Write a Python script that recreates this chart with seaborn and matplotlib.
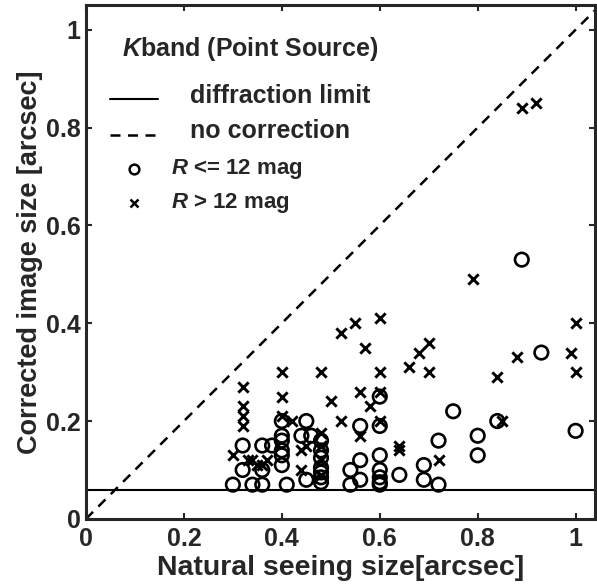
import matplotlib
matplotlib.use("Agg")
import matplotlib.pyplot as plt
import seaborn as sns
import numpy as np
import pandas as pd

# ---- data ----
bright_x = [0.30, 0.32, 0.32, 0.34, 0.36, 0.36, 0.36, 0.38, 0.40, 0.40, 0.40, 0.40, 0.40, 0.40,
            0.41, 0.44, 0.46, 0.45, 0.45, 0.48, 0.48, 0.48, 0.48, 0.48, 0.48, 0.48, 0.54, 0.54,
            0.56, 0.56, 0.56, 0.60, 0.60, 0.60, 0.60, 0.60, 0.60, 0.60, 0.64, 0.69, 0.69, 0.72,
            0.72, 0.75, 0.80, 0.80, 0.84, 0.89, 0.93, 1.00]
bright_y = [0.07, 0.15, 0.10, 0.07, 0.15, 0.10, 0.07, 0.15, 0.20, 0.17, 0.16, 0.14, 0.13, 0.11,
            0.07, 0.17, 0.17, 0.20, 0.08, 0.16, 0.14, 0.125, 0.105, 0.095, 0.085, 0.075, 0.10, 0.07,
            0.19, 0.12, 0.08, 0.25, 0.19, 0.13, 0.10, 0.085, 0.075, 0.07, 0.09, 0.11, 0.08, 0.16,
            0.07, 0.22, 0.17, 0.13, 0.20, 0.53, 0.34, 0.18]

faint_x = [0.30, 0.32, 0.32, 0.32, 0.32, 0.33, 0.34, 0.35, 0.37, 0.36, 0.40, 0.40, 0.40, 0.42,
           0.44, 0.44, 0.45, 0.48, 0.48, 0.48, 0.48, 0.48, 0.50, 0.52, 0.52, 0.55, 0.56, 0.56,
           0.57, 0.58, 0.60, 0.60, 0.60, 0.60, 0.64, 0.64, 0.66, 0.68, 0.70, 0.70, 0.72, 0.79,
           0.84, 0.85, 0.88, 0.89, 0.92, 0.99, 1.00, 1.00]
faint_y = [0.13, 0.27, 0.23, 0.21, 0.19, 0.12, 0.12, 0.11, 0.12, 0.11, 0.30, 0.25, 0.21, 0.20,
           0.14, 0.10, 0.15, 0.30, 0.175, 0.15, 0.12, 0.09, 0.24, 0.38, 0.20, 0.40, 0.26, 0.17,
           0.35, 0.23, 0.41, 0.30, 0.26, 0.20, 0.15, 0.14, 0.31, 0.34, 0.36, 0.30, 0.12, 0.49,
           0.29, 0.20, 0.33, 0.84, 0.85, 0.34, 0.40, 0.30]

diffraction_limit = 0.06
ticks = [0, 0.2, 0.4, 0.6, 0.8, 1.0]
tick_labels = ["0", "0.2", "0.4", "0.6", "0.8", "1"]

sns.set_style("ticks")
plt.rcParams["font.family"] = ["Liberation Sans", "DejaVu Sans"]
plt.rcParams["font.weight"] = "bold"
plt.rcParams["mathtext.fontset"] = "custom"
plt.rcParams["mathtext.it"] = "Liberation Sans:italic:bold"
plt.rcParams["mathtext.rm"] = "Liberation Sans:bold"
plt.rcParams["mathtext.bf"] = "Liberation Sans:bold"

fig = plt.figure(figsize=(5.97, 5.85), dpi=100)
ax = fig.add_axes([0.144, 0.113, 0.853, 0.878])

bright = pd.DataFrame({"x": bright_x, "y": bright_y})
faint = pd.DataFrame({"x": faint_x, "y": faint_y})

sns.scatterplot(data=bright, x="x", y="y", marker="o", s=95, facecolors="none",
                edgecolor="black", linewidth=1.9, ax=ax, zorder=3)
sns.scatterplot(data=faint, x="x", y="y", marker="x", s=55, color="black",
                linewidth=2.1, ax=ax, zorder=3)

ax.axhline(diffraction_limit, color="black", lw=1.5)
ax.plot([0, 1.1], [0, 1.1], color="black", lw=1.8, ls=(0, (4, 3)))

ax.set_xlim(0, 1.04)
ax.set_ylim(0, 1.05)
ax.set_xticks(ticks)
ax.set_xticklabels(tick_labels)
ax.set_yticks(ticks)
ax.set_yticklabels(tick_labels)
ax.tick_params(direction="in", length=4, width=1.5, labelsize=18, top=True, right=True)
ax.tick_params(axis="x", pad=6)
ax.tick_params(axis="y", pad=4)
for lab in ax.get_xticklabels() + ax.get_yticklabels():
    lab.set_fontweight("bold")
for sp in ax.spines.values():
    sp.set_linewidth(2.2)
    sp.set_visible(True)

ax.set_xlabel("Natural seeing size[arcsec]", fontsize=20.5, fontweight="bold", labelpad=3)
ax.set_ylabel("Corrected image size [arcsec]", fontsize=19.5, fontweight="bold", labelpad=2)

# ---- legend (manual, MATLAB style) ----
T = ax.transAxes
ax.text(0.071, 0.901, r"$\it{K}$band (Point Source)", transform=T, fontsize=18,
        fontweight="bold", va="baseline", ha="left")
ax.plot([0.047, 0.141], [0.817, 0.817], transform=T, color="black", lw=1.5)
ax.text(0.204, 0.809, "diffraction limit", transform=T, fontsize=18, fontweight="bold",
        va="baseline", ha="left")
ax.plot([0.047, 0.141], [0.747, 0.747], transform=T, color="black", lw=1.8, ls=(0, (4, 3)))
ax.text(0.204, 0.741, "no correction", transform=T, fontsize=18, fontweight="bold",
        va="baseline", ha="left")
ax.plot([0.094], [0.682], transform=T, marker="o", ms=7, mfc="none", mec="black", mew=1.8)
ax.text(0.167, 0.671, r"$\it{R}$ <= 12 mag", transform=T, fontsize=16, fontweight="bold",
        va="baseline", ha="left")
ax.plot([0.094], [0.615], transform=T, marker="x", ms=6, color="black", mew=1.8)
ax.text(0.167, 0.605, r"$\it{R}$ > 12 mag", transform=T, fontsize=16, fontweight="bold",
        va="baseline", ha="left")

fig.savefig("out.png", dpi=100)
